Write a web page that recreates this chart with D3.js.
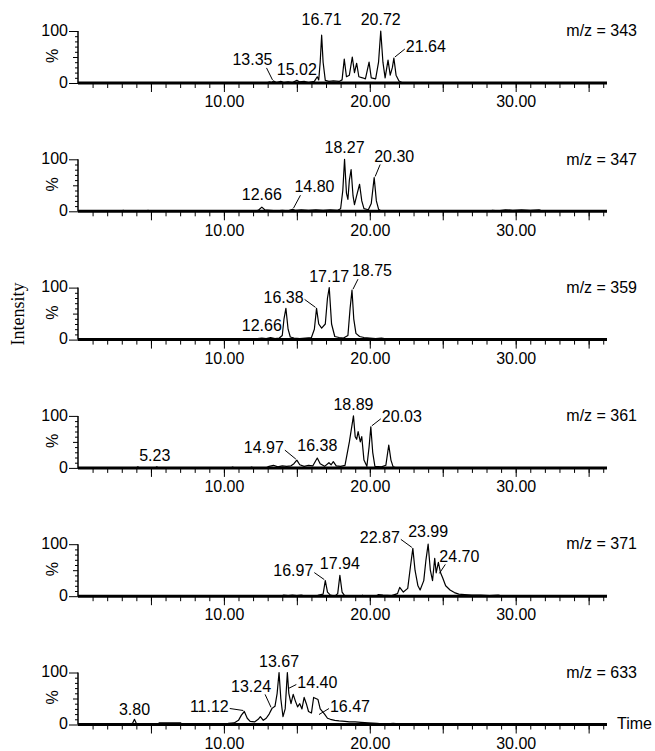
<!DOCTYPE html>
<html>
<head>
<meta charset="utf-8">
<script src="https://cdn.jsdelivr.net/npm/d3@7"></script>
<style>
  body { margin: 0; background: #fff; }
  svg text { font-family: "Liberation Sans", Arial, sans-serif; font-size: 16px; fill: #000; }
</style>
</head>
<body>
<div id="chart"></div>
<script>
// ion channels (m/z) shown top to bottom
const channels = ["m/z = 343", "m/z = 347", "m/z = 359", "m/z = 361", "m/z = 371", "m/z = 633"];

// traces: [retention time (min), relative intensity (%)]
const trace343 = [[0,0],[12.9,0],[13.1,2],[13.3,1],[13.4,4],[13.6,1],[13.9,3],[14.1,1],[14.4,2],[14.7,1],[15.0,5],[15.2,2],[15.5,3],[15.8,1],[16.2,3],[16.4,12],[16.5,6],[16.6,40],[16.7,92],[16.8,40],[16.95,5],[17.2,3],[17.5,4],[17.9,3],[18.1,6],[18.25,46],[18.4,12],[18.6,15],[18.8,50],[18.95,20],[19.1,38],[19.25,12],[19.5,10],[19.7,8],[19.95,40],[20.1,10],[20.4,8],[20.6,40],[20.75,100],[20.9,40],[21.05,10],[21.25,44],[21.4,15],[21.55,30],[21.65,48],[21.8,15],[22.0,4],[22.2,1],[22.4,0],[36.2,0]];
const trace347 = [[0,0],[3.0,0],[3.1,2],[3.3,0],[4.7,0],[4.8,2],[4.9,0],[12.2,0],[12.4,3],[12.6,8],[12.8,3],[13.2,2],[13.6,1],[14.0,2],[14.4,1],[14.7,4],[14.9,2],[15.3,3],[15.8,2],[16.3,3],[16.8,2],[17.3,3],[17.8,2],[18.0,5],[18.15,40],[18.27,100],[18.4,35],[18.5,23],[18.6,60],[18.72,80],[18.85,30],[18.95,13],[19.1,30],[19.3,52],[19.45,20],[19.6,5],[19.9,3],[20.1,15],[20.3,65],[20.45,20],[20.6,4],[20.8,0],[28.2,0],[28.4,2],[28.8,1],[29.3,3],[29.8,2],[30.4,3],[31.0,2],[31.6,3],[31.9,0],[36.2,0]];
const trace359 = [[0,0],[10.4,0],[10.6,2],[10.8,0],[12.1,0],[12.3,2],[12.6,3],[12.9,2],[13.2,4],[13.5,2],[13.8,3],[14.0,8],[14.12,40],[14.25,60],[14.4,20],[14.55,5],[14.8,3],[15.2,2],[15.6,3],[16.0,4],[16.2,20],[16.35,60],[16.5,30],[16.7,22],[16.95,30],[17.1,80],[17.22,100],[17.38,30],[17.6,6],[17.9,4],[18.2,3],[18.5,8],[18.65,60],[18.78,95],[18.9,40],[19.05,12],[19.3,6],[19.6,4],[20.0,3],[20.4,2],[20.8,3],[21.2,1],[21.6,2],[22.0,1],[22.4,2],[22.6,0],[36.2,0]];
const trace361 = [[0,0],[4.0,0],[4.1,2],[4.2,0],[5.3,0],[5.4,2],[5.5,0],[10.5,0],[10.6,1.5],[10.7,0],[11.8,0],[11.9,1.5],[12.0,0],[12.9,0],[13.1,3],[13.4,5],[13.7,2],[14.0,4],[14.3,3],[14.6,4],[14.8,8],[15.0,15],[15.2,6],[15.5,3],[15.8,5],[16.1,4],[16.4,19],[16.6,8],[16.9,3],[17.2,10],[17.35,6],[17.5,12],[17.7,4],[18.0,3],[18.3,5],[18.6,50],[18.88,100],[19.0,60],[19.1,55],[19.2,70],[19.35,50],[19.45,60],[19.6,15],[19.8,3],[19.95,40],[20.07,79],[20.2,30],[20.35,3],[20.8,2],[21.1,5],[21.3,44],[21.45,15],[21.6,2],[21.8,0],[36.2,0]];
const trace371 = [[0,0],[13.9,0],[14.1,2],[14.4,1],[14.7,2],[15.0,1],[15.3,2],[15.6,0],[16.3,0],[16.5,2],[16.8,4],[16.95,30],[17.1,8],[17.3,2],[17.6,0],[17.8,5],[17.95,40],[18.1,8],[18.3,0],[19.4,0],[19.5,2],[19.6,0],[20.4,0],[20.6,3],[20.9,2],[21.5,1],[21.9,5],[22.05,17],[22.3,8],[22.6,15],[22.8,60],[22.95,92],[23.1,50],[23.3,20],[23.45,12],[23.7,30],[23.85,70],[24.0,100],[24.15,50],[24.3,30],[24.45,73],[24.55,45],[24.7,65],[24.85,45],[25.0,35],[25.2,20],[25.5,12],[25.8,7],[26.1,4],[26.5,3],[27.0,2],[27.6,2],[28.2,1],[28.8,2],[29.1,0],[36.2,0]];
const trace633 = [[0,0],[3.6,0],[3.75,3],[3.87,10],[4.0,2],[4.1,0],[5.5,0],[5.55,3],[7.05,3],[7.1,0],[10.2,0],[10.3,2],[10.7,3],[11.0,8],[11.2,18],[11.4,25],[11.6,12],[11.8,6],[12.1,5],[12.35,10],[12.5,15],[12.7,8],[12.9,12],[13.1,20],[13.3,31],[13.5,35],[13.65,60],[13.78,100],[13.9,50],[14.05,15],[14.2,30],[14.35,100],[14.45,60],[14.6,40],[14.75,58],[14.9,45],[15.05,34],[15.2,40],[15.35,30],[15.5,52],[15.65,40],[15.8,25],[16.0,22],[16.15,52],[16.3,50],[16.45,48],[16.6,30],[16.9,20],[17.1,12],[17.3,10],[17.6,8],[17.9,7],[18.3,6],[18.6,5],[19.0,5],[19.4,4],[19.9,3],[20.5,2],[21.0,1],[21.6,2],[22.2,1],[22.5,0],[36.2,0]];
const traces = [trace343, trace347, trace359, trace361, trace371, trace633];

// peak labels: [text, time, intensity of the peak it marks]
const peaks343 = [["16.71",16.7,92],["20.72",20.75,100],["21.64",21.65,48],["13.35",13.4,4],["15.02",15.0,5]];
const peaks347 = [["18.27",18.27,100],["20.30",20.3,65],["12.66",12.6,8],["14.80",14.7,4]];
const peaks359 = [["12.66",12.6,3],["16.38",16.35,60],["17.17",17.22,100],["18.75",18.78,95]];
const peaks361 = [["5.23",5.4,2],["14.97",15.0,15],["16.38",16.4,19],["18.89",18.88,100],["20.03",20.07,79]];
const peaks371 = [["16.97",16.95,30],["17.94",17.95,40],["22.87",22.95,92],["23.99",24.0,100],["24.70",24.7,65]];
const peaks633 = [["3.80",3.87,10],["11.12",11.4,25],["13.24",13.3,31],["13.67",13.78,100],["14.40",14.35,100],["16.47",16.45,48]];
const peaks = [peaks343, peaks347, peaks359, peaks361, peaks371, peaks633];

// tick labels
const xTickLabels = [10, 20, 30];
const yTickLabels = [0, 100];

// label placement (pixels from the peak top: dx, dy, leader line?, leader start drop)
const labelLayout = [
  [[0,-14,false],[0,-10,false],[32,-10,true],[-21,-20,true],[0,-10,false]],
  [[0,-11,false],[20,-20,true],[0,-11,false],[22,-21,true]],
  [[0,-11,false],[-33,-10,true],[0,-10,false],[20,-18,true]],
  [[-2,-10,false],[-33,-11,true],[0,-11,false],[0,-10,false],[31,-9,true]],
  [[-32,-9,true],[0,-11,false],[-33,-10,true],[0,-11,false],[21,-5,true,12]],
  [[0,-9,false],[-35,-4,true],[-21,-21,true],[0,-10,false],[30,11,true,17],[32,8,true,16]]
];

const W = 655, H = 751;
const left = 78, right = 606;
const base0 = 83, step = 128.3, ph = 52;

const svg = d3.select("#chart").append("svg")
  .attr("width", W).attr("height", H);
svg.append("rect").attr("width", W).attr("height", H).attr("fill", "#fff");

const x = d3.scaleLinear().domain([0, 36.19]).range([left, right]);

channels.forEach(function(name, i) {
  const base = base0 + i * step;
  const y = d3.scaleLinear().domain([0, 100]).range([base, base - ph]);
  const g = svg.append("g");

  // x axis: minor ticks each minute, longer every 5
  const minor = g.append("g").attr("transform", "translate(0," + base + ")")
    .call(d3.axisBottom(x).tickValues(d3.range(1, 37)).tickSize(5).tickFormat(""));
  minor.select(".domain").remove();
  minor.selectAll("line").attr("stroke-width", 1);
  const major = g.append("g").attr("transform", "translate(0," + base + ")")
    .call(d3.axisBottom(x).tickValues(d3.range(5, 36, 5)).tickSize(9)
      .tickFormat(function(d) { return xTickLabels.includes(d) ? d3.format(".2f")(d) : ""; }));
  major.select(".domain").remove();
  major.selectAll("text").attr("font-size", 16).attr("font-family", "Liberation Sans, Arial, sans-serif")
    .attr("dy", null).attr("y", 20).attr("dominant-baseline", "middle");

  // y axis
  const yax = g.append("g").attr("transform", "translate(" + left + ",0)")
    .call(d3.axisLeft(y).tickValues(d3.range(0, 101, 10))
      .tickSize(3).tickFormat(function(d) { return yTickLabels.includes(d) ? d : ""; }));
  yax.select(".domain").attr("d", "M0," + (base - ph) + "V" + base).attr("stroke-width", 1.5);
  yax.selectAll(".tick line").attr("x2", function(d) { return d === 50 ? -5 : (d % 100 === 0 ? -9 : -3); });
  yax.selectAll(".tick text").attr("x", -10).attr("dy", null).attr("dominant-baseline", "middle")
    .attr("font-size", 16).attr("font-family", "Liberation Sans, Arial, sans-serif");

  g.append("text")
    .attr("transform", "translate(54," + (base - 27) + ") rotate(-90)")
    .attr("text-anchor", "middle").attr("dominant-baseline", "middle")
    .text("%");

  // thick baseline
  g.append("line").attr("x1", left).attr("x2", right + 1)
    .attr("y1", base).attr("y2", base)
    .attr("stroke", "#000").attr("stroke-width", 3);

  // trace
  const line = d3.line().x(function(d) { return x(d[0]); }).y(function(d) { return y(d[1]); });
  g.append("path").datum(traces[i])
    .attr("d", line).attr("fill", "none")
    .attr("stroke", "#000").attr("stroke-width", 1.2).attr("stroke-linejoin", "round");

  // channel name
  g.append("text").attr("x", 637).attr("y", base - 51)
    .attr("text-anchor", "end").attr("dominant-baseline", "middle")
    .text(name);

  // peak labels
  peaks[i].forEach(function(p, j) {
    const lay = labelLayout[i][j];
    const px = x(p[1]), py = y(p[2]);
    const cx = px + lay[0], cy = py + lay[1];
    const t = g.append("text").attr("x", cx).attr("y", cy)
      .attr("text-anchor", "middle").attr("dominant-baseline", "middle")
      .text(p[0]);
    if (lay[2]) {
      const w = t.node().getComputedTextLength();
      const sgn = lay[0] > 0 ? 1 : -1;
      const drop = lay[3] || 0;
      let ex, ey;
      if (Math.abs(lay[0]) > w / 2 + 5) {
        ex = cx - sgn * (w / 2 + 1); ey = cy + 1;
      } else {
        ex = cx - sgn * (w / 2 - 6); ey = cy + 7;
      }
      g.append("line")
        .attr("x1", px + sgn * 1).attr("y1", py - 1 + drop)
        .attr("x2", ex).attr("y2", ey)
        .attr("stroke", "#000").attr("stroke-width", 1);
    }
  });

  if (i === channels.length - 1) {
    g.append("text").attr("x", 617).attr("y", base)
      .attr("dominant-baseline", "middle").text("Time");
  }
});

svg.append("text")
  .attr("transform", "translate(20,314) rotate(-90)")
  .attr("text-anchor", "middle").attr("dominant-baseline", "middle")
  .style("font-family", "'Liberation Serif', 'Times New Roman', serif")
  .style("font-size", "18px")
  .text("Intensity");
</script>
</body>
</html>
